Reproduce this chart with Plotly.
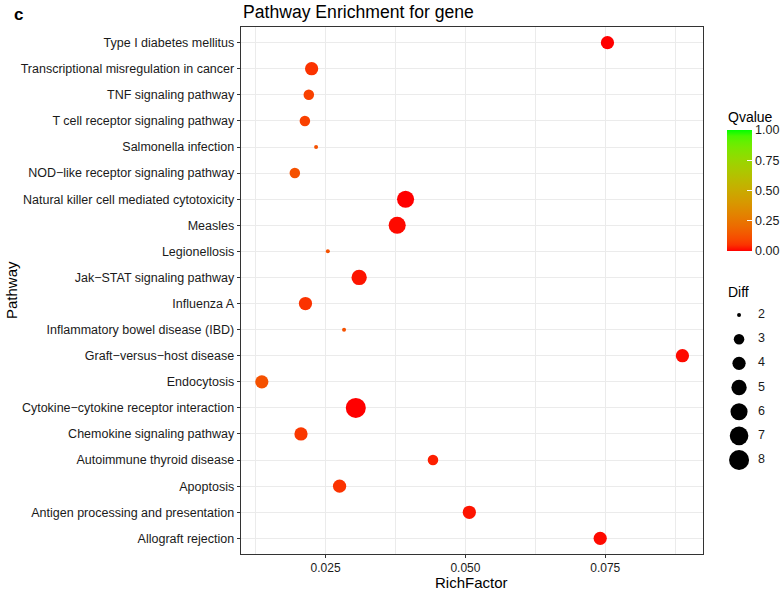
import plotly.graph_objects as go

# ---------------- data ----------------
pathways = [
    "Allograft rejection",
    "Antigen processing and presentation",
    "Apoptosis",
    "Autoimmune thyroid disease",
    "Chemokine signaling pathway",
    "Cytokine\u2212cytokine receptor interaction",
    "Endocytosis",
    "Graft\u2212versus\u2212host disease",
    "Inflammatory bowel disease (IBD)",
    "Influenza A",
    "Jak\u2212STAT signaling pathway",
    "Legionellosis",
    "Measles",
    "Natural killer cell mediated cytotoxicity",
    "NOD\u2212like receptor signaling pathway",
    "Salmonella infection",
    "T cell receptor signaling pathway",
    "TNF signaling pathway",
    "Transcriptional misregulation in cancer",
    "Type I diabetes mellitus",
]
rich_factor = [0.0741, 0.0507, 0.0275, 0.0442, 0.0206, 0.0304, 0.0136, 0.0888,
               0.0283, 0.0214, 0.0310, 0.0254, 0.0378, 0.0393, 0.0195, 0.0233,
               0.0213, 0.0220, 0.0225, 0.0754]
diff = [4, 4, 4, 3, 4, 8, 4, 4, 2, 4, 5, 2, 6, 6, 3, 2, 3, 3, 4, 4]
qvalue = [0.01, 0.02, 0.05, 0.03, 0.06, 0.0, 0.12, 0.01, 0.12, 0.05, 0.02,
          0.12, 0.01, 0.0, 0.12, 0.12, 0.08, 0.08, 0.05, 0.0]

diff_breaks = [2, 3, 4, 5, 6, 7, 8]
q_ticks = [0, 0.25, 0.5, 0.75, 1.0]
q_ticktext = ["0.00", "0.25", "0.50", "0.75", "1.00"]
x_ticks = [0.025, 0.050, 0.075]
x_ticktext = ["0.025", "0.050", "0.075"]

# ---------------- styling helpers ----------------
def _lin(c):
    c = c / 255.0
    return c / 12.92 if c <= 0.04045 else ((c + 0.055) / 1.055) ** 2.4

def _gam(c):
    c = 12.92 * c if c <= 0.0031308 else 1.055 * c ** (1 / 2.4) - 0.055
    return max(0, min(255, round(c * 255)))

def rgb2lab(rgb):
    r, g, b = (_lin(v) for v in rgb)
    X = (0.4124 * r + 0.3576 * g + 0.1805 * b) / 0.95047
    Y = (0.2126 * r + 0.7152 * g + 0.0722 * b) / 1.0
    Z = (0.0193 * r + 0.1192 * g + 0.9505 * b) / 1.08883
    f = lambda t: t ** (1 / 3) if t > 0.008856 else 7.787 * t + 16 / 116
    fx, fy, fz = f(X), f(Y), f(Z)
    return (116 * fy - 16, 500 * (fx - fy), 200 * (fy - fz))

def lab2rgb(lab):
    L, a, bb = lab
    fy = (L + 16) / 116
    fx = fy + a / 500
    fz = fy - bb / 200
    finv = lambda t: t ** 3 if t ** 3 > 0.008856 else (t - 16 / 116) / 7.787
    X, Y, Z = finv(fx) * 0.95047, finv(fy), finv(fz) * 1.08883
    r = 3.2406 * X - 1.5372 * Y - 0.4986 * Z
    g = -0.9689 * X + 1.8758 * Y + 0.0415 * Z
    b = 0.0557 * X - 0.2040 * Y + 1.0570 * Z
    return (_gam(max(0, r)), _gam(max(0, g)), _gam(max(0, b)))

lo, hi = rgb2lab((255, 0, 0)), rgb2lab((0, 255, 0))
colorscale = []
for i in range(21):
    t = i / 20
    lab = tuple(lo[k] + (hi[k] - lo[k]) * t for k in range(3))
    r, g, b = lab2rgb(lab)
    colorscale.append([t, f"rgb({r},{g},{b})"])

def size_px(d):
    return 4 + 16 * ((d - 2) / 6) ** 0.5

W, H = 784, 592
PX0, PX1, PY0, PY1 = 241, 704, 27, 554
TXT = "#1a1a1a"
FONT = "Liberation Sans, Arial, sans-serif"

fig = go.Figure()
fig.add_trace(go.Scatter(
    x=rich_factor, y=pathways, mode="markers",
    marker=dict(size=[size_px(d) for d in diff], color=qvalue, cmin=0, cmax=1,
                colorscale=colorscale, line=dict(width=0), opacity=1,
                colorbar=dict(x=727 / W, xanchor="left", y=1 - 190.5 / H, yanchor="middle",
                              len=121, lenmode="pixels", thickness=25, xpad=0, ypad=0,
                              outlinewidth=0, tickvals=q_ticks, ticktext=q_ticktext,
                              ticks="inside", ticklen=5, tickcolor="white", tickwidth=1,
                              tickfont=dict(size=12.5, color=TXT, family=FONT))),
    showlegend=False, hoverinfo="x+y",
))

# size legend on a small auxiliary axis
fig.add_trace(go.Scatter(
    x=[20] * len(diff_breaks), y=diff_breaks, mode="markers",
    marker=dict(size=[size_px(d) for d in diff_breaks], color="black",
                line=dict(width=0), opacity=1),
    xaxis="x2", yaxis="y2", showlegend=False, hoverinfo="skip",
))
fig.add_trace(go.Scatter(
    x=[39] * len(diff_breaks), y=diff_breaks, mode="text",
    text=[str(d) for d in diff_breaks], textposition="middle right",
    textfont=dict(size=12.5, color=TXT, family=FONT),
    xaxis="x2", yaxis="y2", showlegend=False, hoverinfo="skip",
))

grid = "#EBEBEB"
fig.update_layout(
    width=W, height=H, margin=dict(l=0, r=0, t=0, b=0),
    paper_bgcolor="white", plot_bgcolor="white",
    font=dict(family=FONT, color=TXT),
    xaxis=dict(domain=[PX0 / W, PX1 / W], range=[0.00982, 0.0925],
               tickvals=x_ticks, ticktext=x_ticktext, ticks="outside", ticklen=3,
               tickcolor="#333333", tickfont=dict(size=12, color=TXT),
               showgrid=True, gridcolor=grid, gridwidth=1.1,
               minor=dict(tickvals=[0.0125, 0.0375, 0.0625, 0.0875], showgrid=True,
                          gridcolor=grid, gridwidth=0.6, ticks=""),
               showline=True, linecolor="#333333", linewidth=1, mirror=True,
               zeroline=False, anchor="y"),
    yaxis=dict(domain=[1 - PY1 / H, 1 - PY0 / H], range=[-0.6, 19.6],
               type="category", categoryorder="array", categoryarray=pathways,
               ticks="outside", ticklen=3, tickcolor="#333333",
               tickfont=dict(size=12.5, color=TXT),
               showgrid=True, gridcolor=grid, gridwidth=1.1,
               showline=True, linecolor="#333333", linewidth=1, mirror=True,
               zeroline=False, anchor="x"),
    xaxis2=dict(domain=[720 / W, 784 / W], range=[0, 64], visible=False,
                anchor="y2", fixedrange=True),
    yaxis2=dict(domain=[1 - 472.1 / H, 1 - 302.9 / H], range=[8.5, 1.5], visible=False,
                anchor="x2", fixedrange=True),
    annotations=[
        dict(text="<b>c</b>", x=12 / W, y=1 - 14 / H, xref="paper", yref="paper",
             xanchor="left", yanchor="middle", showarrow=False, font=dict(size=17, color="black")),
        dict(text="Pathway Enrichment for gene", x=PX0 / W, y=1 - 12 / H, xref="paper", yref="paper",
             xanchor="left", yanchor="middle", showarrow=False, font=dict(size=17.6, color="black")),
        dict(text="RichFactor", x=(PX0 + PX1) / 2 / W, y=1 - 582 / H, xref="paper", yref="paper",
             xanchor="center", yanchor="middle", showarrow=False, font=dict(size=15, color="black")),
        dict(text="Pathway", x=11 / W, y=1 - 290 / H, xref="paper", yref="paper", textangle=-90,
             xanchor="center", yanchor="middle", showarrow=False, font=dict(size=15, color="black")),
        dict(text="Qvalue", x=727 / W, y=1 - 117 / H, xref="paper", yref="paper",
             xanchor="left", yanchor="middle", showarrow=False, font=dict(size=14, color="black")),
        dict(text="Diff", x=727 / W, y=1 - 292 / H, xref="paper", yref="paper",
             xanchor="left", yanchor="middle", showarrow=False, font=dict(size=14, color="black")),
    ],
)

fig.write_html("out.html", config={"displayModeBar": False},
               post_script="document.body.style.margin='0';document.body.style.padding='0';")
